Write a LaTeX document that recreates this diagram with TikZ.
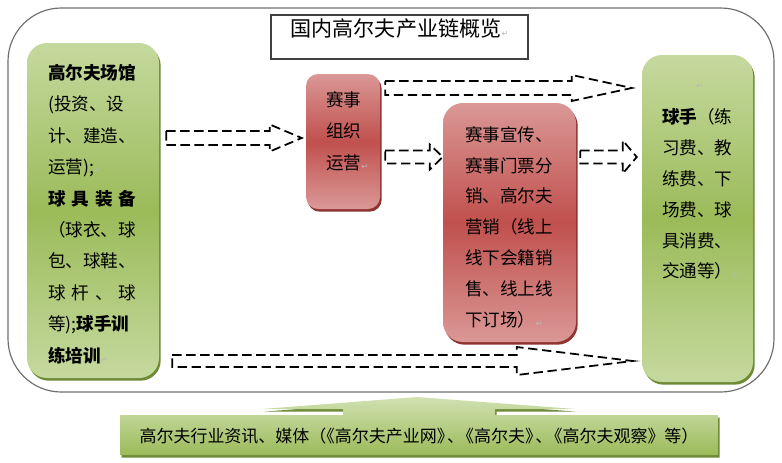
\documentclass[tikz,border=0pt]{standalone}
\usepackage{fontspec}
\setmainfont{Noto Sans CJK SC}
\newfontfamily\symbfont{DejaVu Sans}
\usetikzlibrary{calc,fit,shadows}

\definecolor{greenlight}{HTML}{C5D99E}
\definecolor{greenmid}{HTML}{9BBB59}
\definecolor{greendark}{HTML}{6E8A37}
\definecolor{redlight}{HTML}{DA9896}
\definecolor{redmid}{HTML}{C0504D}
\definecolor{reddark}{HTML}{8E3432}
\definecolor{framegray}{HTML}{6E6E6E}

% paragraph mark as printed
\newcommand{\pmark}{{\symbfont\fontsize{7pt}{7pt}\selectfont\color{gray!55}↵}}

% dashed block arrow: tail, tip, head length, body half, head half
\newcommand{\flowarrow}[5]{%
  \draw[flow] ($(#1)+(0,-#4)$) -- ($(#2)+(-#3,-#4)$) -- ($(#2)+(-#3,-#5)$) -- (#2)
    -- ($(#2)+(-#3,#5)$) -- ($(#2)+(-#3,#4)$) -- ($(#1)+(0,#4)$) -- cycle;}

\tikzset{
  boxtext/.style={font=\fontsize{15pt}{26.4pt}\selectfont, align=left, inner sep=0pt,
    anchor=north west},
  greenbox/.style={rounded corners=6mm, top color=greenlight, bottom color=greenlight,
    middle color=greenmid, inner sep=0pt,
    drop shadow={shadow xshift=0.5mm, shadow yshift=-0.8mm, fill=greendark, opacity=1}},
  redbox/.style={rounded corners=#1, top color=redlight, bottom color=redlight,
    middle color=redmid, inner sep=0pt,
    drop shadow={shadow xshift=0.5mm, shadow yshift=-0.8mm, fill=reddark, opacity=1}},
  flow/.style={draw=black, line width=1.5pt, dash pattern=on 2.8mm off 1.4mm},
}

\begin{document}
\begin{tikzpicture}[x=0.3mm, y=-0.3mm]
  \useasboundingbox (0,0) rectangle (782,462);
  % \draw[help lines] (0,0) grid[step=20] (782,462);

  % outer frame and title
  \draw[draw=framegray, line width=1pt, rounded corners=16mm] (8,8) rectangle (774,392);
  \node[draw=black!75, line width=1pt, fill=white, inner sep=0pt, fit={(271,15) (528,59)},
    font=\fontsize{18pt}{18pt}\selectfont] (title) {国内高尔夫产业链概览\pmark};

  % boxes
  \node[greenbox, fit={(27,43) (159,378)}] (venue) {};
  \node[boxtext, font=\fontsize{15pt}{26.8pt}\selectfont] (venuetext) at (48,64)
    {{\bfseries 高尔夫场馆}\\(投资、设\\计、建造、\\运营);\pmark\\
     \makebox[5em][s]{\bfseries 球\hfil 具\hfil 装\hfil 备}\\（球衣、球\\包、球鞋、\\
     \makebox[5em][s]{球\hfil 杆\hfil 、\hfil 球}\\等);{\bfseries 球手训}\\{\bfseries 练培训}\pmark};
  \node[redbox=3.6mm, fit={(306,74) (380,209)}] (organise) {};
  \node[boxtext, font=\fontsize{15pt}{27pt}\selectfont] (organisetext) at (326,91)
    {赛事\\组织\\运营\pmark};
  \node[redbox=6mm, fit={(443,103) (576,342)}] (promo) {};
  \node[boxtext] (promotext) at (465,126)
    {赛事宣传、\\赛事门票分\\销、高尔夫\\营销（线上\\线下会籍销\\售、线上线\\下订场）\pmark};
  \node[greenbox, fit={(642,55) (753,382)}] (player) {};
  \node[inner sep=0pt] (playermark) at (700,86) {\pmark};
  \node[boxtext] (playertext) at (662,108)
    {{\bfseries 球手}（练\\习费、教\\练费、下\\场费、球\\具消费、\\交通等）\pmark};

  % arrows
  \coordinate (a1s) at ($(venue.east |- 0,138)+(7,0)$);
  \coordinate (a1e) at ($(organise.west |- 0,138)+(-4,0)$);
  \coordinate (a2s) at ($(organise.east |- 0,88)+(5,0)$);
  \coordinate (a2e) at ($(player.west |- 0,88)+(-10,0)$);
  \coordinate (a3s) at ($(organise.east |- 0,157)+(5,0)$);
  \coordinate (a3e) at (promo.west |- 0,157);
  \coordinate (a4s) at ($(promo.east |- 0,157)+(4,0)$);
  \coordinate (a4e) at ($(player.west |- 0,157)+(-5,0)$);
  \coordinate (a5s) at ($(venue.east |- 0,361)+(13,0)$);
  \coordinate (a5e) at ($(player.west |- 0,361)+(-9,0)$);
  \flowarrow{a1s}{a1e}{32}{7}{13.5}
  \flowarrow{a2s}{a2e}{60}{7}{13}
  \flowarrow{a3s}{a3e}{13}{6.5}{12.5}
  \flowarrow{a4s}{a4e}{14}{6.5}{16.5}
  \flowarrow{a5s}{a5e}{116}{6}{14}

  % media callout
  \path[top color=greenlight!80!white, bottom color=greenmid,
    drop shadow={shadow xshift=0.5mm, shadow yshift=-0.8mm, fill=greendark, opacity=1}]
    (120,415) -- (343,415) -- (343,409) -- (262,409) -- (417,397) -- (575,409)
    -- (495,409) -- (495,415) -- (718,415) -- (718,455) -- (120,455) -- cycle;
  \node[font=\fontsize{14.5pt}{14.5pt}\selectfont, inner sep=0pt] (media) at (419,436)
    {高尔夫行业资讯、媒体（\kern-.5em《高尔夫产业网》\kern-.4em、\kern-.4em《高尔夫》\kern-.4em、\kern-.4em《高尔夫观察》等）};
\end{tikzpicture}
\end{document}
